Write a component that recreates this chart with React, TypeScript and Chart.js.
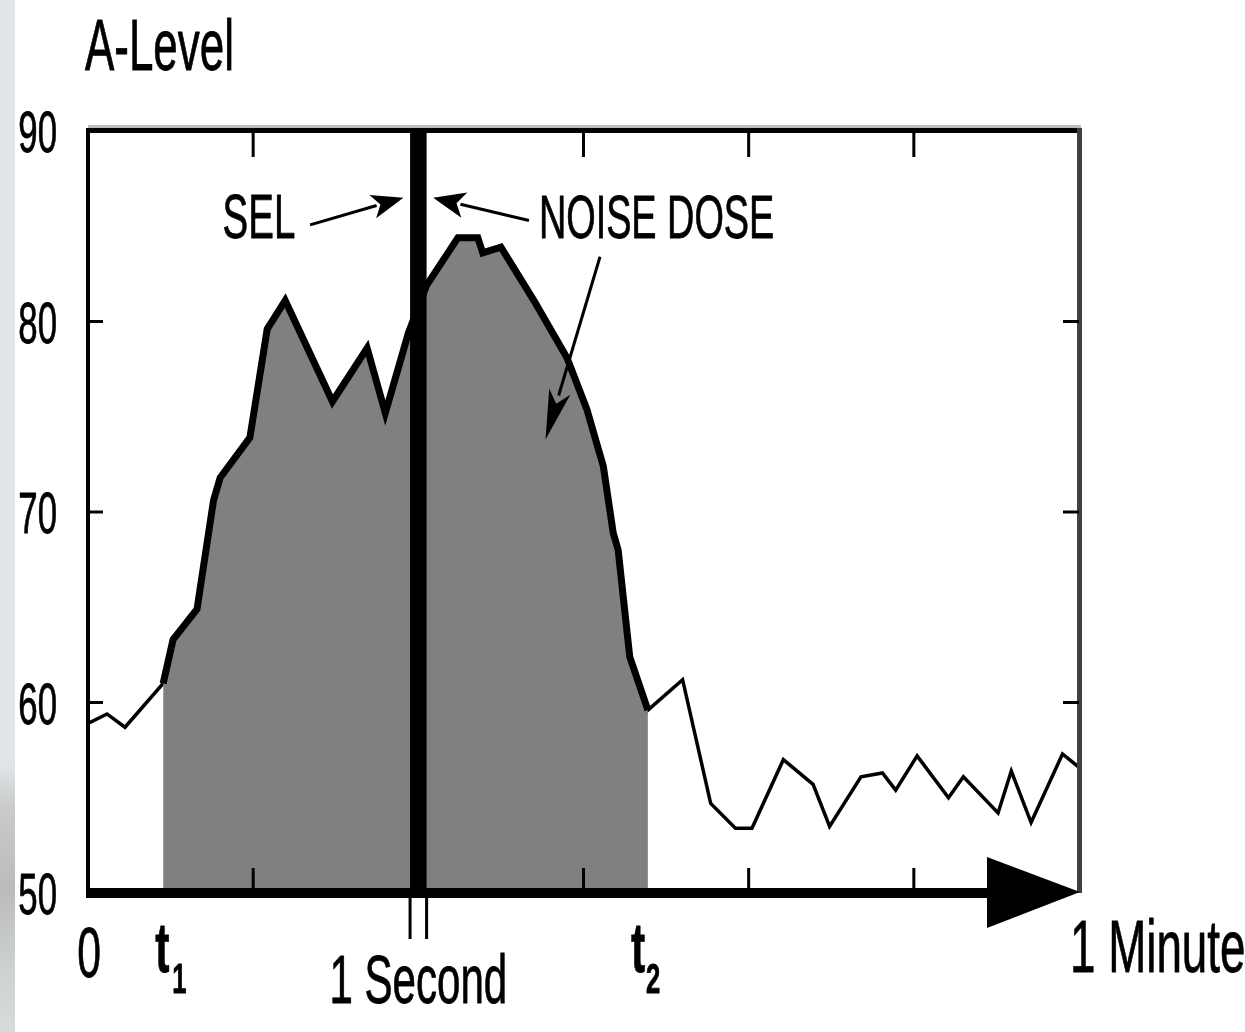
import React, { useEffect, useRef } from "react";
import { Chart, registerables } from "chart.js";

Chart.register(...registerables);

// ---- data (time in seconds, A-weighted level in dB) ----
const timeSeconds = [
  0, 1.15, 2.24, 4.55, 5.15, 5.6, 6.6, 7.6, 8.0, 9.8, 10.85, 11.94, 14.8, 16.9, 18.0, 19.4,
  20.5, 22.4, 23.6, 23.9, 25.0, 27.0, 29.0, 30.2, 31.2, 31.8, 32.1, 32.8, 33.9, 36.0, 37.7,
  39.2, 40.2, 42.1, 43.9, 44.9, 46.8, 48.1, 48.9, 50.2, 52.1, 53.0, 55.1, 55.9, 57.1, 59.0, 60.0,
];
const aLevel = [
  58.9, 59.4, 58.7, 61.0, 63.3, 63.8, 64.9, 70.6, 71.8, 73.9, 79.6, 81.1, 75.8, 78.6, 75.2, 79.4,
  81.9, 84.4, 84.4, 83.6, 83.9, 81.1, 78.1, 75.4, 72.4, 68.9, 68.0, 62.4, 59.6, 61.2, 54.7,
  53.4, 53.4, 57.0, 55.7, 53.5, 56.1, 56.3, 55.4, 57.2, 55.0, 56.1, 54.2, 56.4, 53.7, 57.3, 56.6,
];
const t1 = 4.55;
const t2 = 33.9;
const selStart = 19.5;
const selEnd = 20.5;
const yTickValues = [90, 80, 70, 60, 50];
const yTickLabels = ["90", "80", "70", "60", "50"];
const xTickValues = [10, 20, 30, 40, 50];
const yMin = 50;
const yMax = 90;
const xMin = 0;
const xMax = 60;

const FONT = '"Liberation Sans", Arial, Helvetica, sans-serif';
const SX = 0.61;

function drawText(
  ctx: CanvasRenderingContext2D,
  text: string,
  x: number,
  y: number,
  size: number,
  align: "left" | "center" | "right",
  bold = false
) {
  ctx.save();
  ctx.font = `${bold ? "bold " : ""}${size}px ${FONT}`;
  ctx.textBaseline = "alphabetic";
  ctx.textAlign = "left";
  const w = ctx.measureText(text).width * SX;
  let left = x;
  if (align === "center") left = x - w / 2;
  if (align === "right") left = x - w;
  ctx.translate(left, y);
  ctx.scale(SX, 1);
  ctx.fillStyle = "#000";
  ctx.strokeStyle = "#000";
  ctx.lineWidth = 0.8;
  ctx.lineJoin = "round";
  ctx.fillText(text, 0, 0);
  ctx.strokeText(text, 0, 0);
  ctx.restore();
}

function arrow(
  ctx: CanvasRenderingContext2D,
  x0: number,
  y0: number,
  x1: number,
  y1: number,
  headLen: number,
  headHalf: number
) {
  const ang = Math.atan2(y1 - y0, x1 - x0);
  const bx = x1 - Math.cos(ang) * headLen;
  const by = y1 - Math.sin(ang) * headLen;
  ctx.save();
  ctx.strokeStyle = "#000";
  ctx.fillStyle = "#000";
  ctx.lineWidth = 3;
  ctx.beginPath();
  ctx.moveTo(x0, y0);
  ctx.lineTo(bx + Math.cos(ang) * 4, by + Math.sin(ang) * 4);
  ctx.stroke();
  ctx.beginPath();
  ctx.moveTo(x1, y1);
  ctx.lineTo(bx + Math.cos(ang + Math.PI / 2) * headHalf, by + Math.sin(ang + Math.PI / 2) * headHalf);
  ctx.lineTo(bx + Math.cos(ang) * headLen * 0.25, by + Math.sin(ang) * headLen * 0.25);
  ctx.lineTo(bx + Math.cos(ang - Math.PI / 2) * headHalf, by + Math.sin(ang - Math.PI / 2) * headHalf);
  ctx.closePath();
  ctx.fill();
  ctx.restore();
}

const decorPlugin = {
  id: "decor",
  afterDatasetsDraw(chart: any) {
    const ctx: CanvasRenderingContext2D = chart.ctx;
    const xs = chart.scales.x;
    const ys = chart.scales.y;
    const X = (v: number) => xs.getPixelForValue(v);
    const Y = (v: number) => ys.getPixelForValue(v);
    const L = X(xMin), R = X(xMax), T = Y(yMax), B = Y(yMin);

    ctx.save();
    // SEL 1-second bar
    ctx.fillStyle = "#000";
    ctx.fillRect(X(selStart), T, X(selEnd) - X(selStart), B - T);

    // frame
    ctx.fillStyle = "#bdbdbd";
    ctx.fillRect(L, T - 6, R - L + 2, 3);
    ctx.fillStyle = "#000";
    ctx.fillRect(L - 2, T - 3, R - L + 2, 5); // top
    ctx.fillRect(L - 2, T - 3, 4, B - T + 3); // left
    ctx.fillStyle = "#404040";
    ctx.fillRect(R - 2, T - 3, 5, B - T + 3); // right

    // ticks
    ctx.fillStyle = "#000";
    [80, 70, 60].forEach((v) => {
      const y = Y(v);
      ctx.fillRect(L, y - 1.5, 15, 3);
      ctx.fillRect(R - 16, y - 1.5, 16, 3);
    });
    xTickValues.forEach((v) => {
      const x = X(v);
      ctx.fillRect(x - 1.5, T, 3, 26);
      ctx.fillRect(x - 1.5, B - 25, 3, 25);
    });

    // bottom thick axis with arrow
    ctx.fillStyle = "#000";
    ctx.fillRect(L - 2, B - 5, (R - 92) - (L - 2), 10);
    ctx.beginPath();
    ctx.moveTo(R - 92, B - 36);
    ctx.lineTo(R - 92, B + 35);
    ctx.lineTo(R + 1, B - 1);
    ctx.closePath();
    ctx.fill();

    // 1 second marks below axis
    ctx.fillRect(X(selStart) - 1.5, B + 4, 3, 42);
    ctx.fillRect(X(selEnd) - 1.5, B + 4, 3, 42);

    // y tick labels
    yTickValues.forEach((v, i) => {
      drawText(ctx, yTickLabels[i], 57, Y(v) + 21, 57, "right");
    });

    // x labels
    drawText(ctx, "0", X(0) + 1, B + 84, 70, "center");
    drawText(ctx, "t", X(t1) - 8, B + 79, 70, "left", true);
    drawText(ctx, "1", X(t1) + 9, B + 100, 42, "left", true);
    drawText(ctx, "t", X(t2) - 17, B + 79, 70, "left", true);
    drawText(ctx, "2", X(t2) - 2, B + 100, 42, "left", true);
    drawText(ctx, "1 Second", (X(selStart) + X(selEnd)) / 2, B + 110, 69, "center");
    drawText(ctx, "1 Minute", R - 9, B + 79, 75, "left");

    // title
    drawText(ctx, "A-Level", 85, 70, 72, "left");

    // annotations
    drawText(ctx, "SEL", X(8.15), Y(84.4), 63, "left");
    drawText(ctx, "NOISE DOSE", X(27.3), Y(84.4), 62, "left");
    arrow(ctx, X(13.45), Y(85.07), X(19.1), Y(86.5), 32, 12);
    arrow(ctx, X(26.7), Y(85.3), X(20.9), Y(86.5), 32, 13);
    arrow(ctx, X(31.0), Y(83.4), X(27.7), Y(73.8), 50, 11);

    ctx.restore();
  },
};

export default function App() {
  const ref = useRef<HTMLCanvasElement | null>(null);

  useEffect(() => {
    if (!ref.current) return;
    const all = timeSeconds.map((t, i) => ({ x: t, y: aLevel[i] }));
    const dose = all.filter((p) => p.x >= t1 - 1e-9 && p.x <= t2 + 1e-9);

    const chart = new Chart(ref.current, {
      type: "line",
      data: {
        datasets: [
          {
            label: "Noise dose",
            data: dose,
            borderColor: "#000",
            borderWidth: 7,
            backgroundColor: "#808080",
            fill: "start",
            pointRadius: 0,
            tension: 0,
            borderJoinStyle: "miter",
            order: 1,
          },
          {
            label: "A-Level",
            data: all,
            borderColor: "#000",
            borderWidth: 3.5,
            fill: false,
            pointRadius: 0,
            tension: 0,
            borderJoinStyle: "miter",
            order: 2,
          },
        ],
      },
      options: {
        responsive: false,
        animation: false,
        layout: { padding: { left: 88, right: 166, top: 131, bottom: 139 } },
        scales: {
          x: { type: "linear", min: xMin, max: xMax, display: false },
          y: { type: "linear", min: yMin, max: yMax, display: false },
        },
        plugins: { legend: { display: false }, tooltip: { enabled: false } },
      },
      plugins: [decorPlugin],
    });
    return () => chart.destroy();
  }, []);

  return (
    <div style={{ position: "absolute", left: 0, top: 0, width: 1245, height: 1032, background: "#fff" }}>
      <div
        style={{
          position: "absolute",
          left: 0,
          top: 0,
          width: 15,
          height: 1032,
          background:
            "linear-gradient(to bottom, #e1e5ea 0%, #e1e5ea 74%, #c9ccc9 78%, #b9bcba 86%, #cfd2d2 94%, #d8dbdc 100%)",
        }}
      />
      <canvas ref={ref} width={1245} height={1032} style={{ position: "absolute", left: 0, top: 0 }} />
    </div>
  );
}
